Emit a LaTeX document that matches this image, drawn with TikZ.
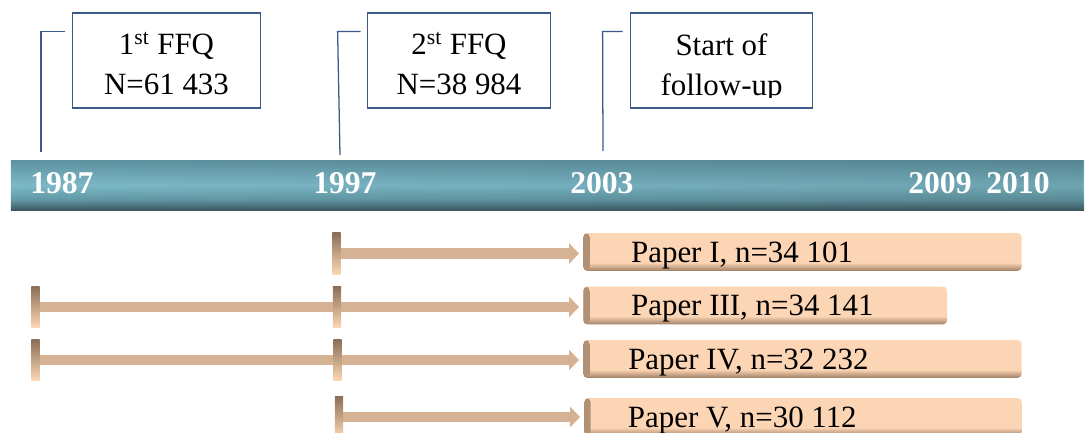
\documentclass[tikz,border=0pt]{standalone}
\usepackage{fontspec}
\setmainfont{Liberation Serif}
\usetikzlibrary{positioning,arrows.meta,backgrounds,fadings}
\definecolor{box_blue}{RGB}{59,90,138}
\definecolor{bar_top}{RGB}{94,146,160}
\definecolor{bar_mid}{RGB}{124,185,200}
\definecolor{bar_low}{RGB}{98,152,165}
\definecolor{bar_dark}{RGB}{58,85,92}
\definecolor{peach}{RGB}{252,213,180}
\definecolor{paper_dark}{RGB}{158,126,100}
\definecolor{shaft_tan}{RGB}{214,178,148}
\definecolor{tick_top}{RGB}{138,110,87}
\definecolor{tick_low}{RGB}{253,216,180}
\pgfdeclareverticalshading{bar_shade}{100bp}{color(0bp)=(bar_dark); color(25bp)=(bar_dark); color(36bp)=(bar_low); color(50bp)=(bar_mid); color(75bp)=(bar_top); color(100bp)=(bar_top)}
\pgfdeclareverticalshading{paper_shade}{100bp}{color(0bp)=(paper_dark); color(25bp)=(paper_dark); color(36bp)=(peach); color(100bp)=(peach)}
\tikzfading[name=bar_fade, left color=transparent!100, right color=transparent!80]

\begin{document}
\begin{tikzpicture}[x=0.025cm, y=-0.025cm,
  ffq/.style={rectangle,draw=box_blue,line width=1pt,fill=white,minimum width=134pt,minimum height=67.3pt,inner sep=0pt},
  ffq_text/.style={align=center,inner sep=0pt,font=\fontsize{22}{28.3}\selectfont},
  callout_line/.style={draw=box_blue,line width=0.9pt},
  time_bar/.style={rectangle,shade,shading=bar_shade,minimum width=763.3pt,minimum height=35.8pt,inner sep=0pt},
  year/.style={anchor=base west,inner sep=0pt,text=white,font=\fontsize{22.5}{24}\selectfont\bfseries},
  paper/.style={rectangle,shade,shading=paper_shade,rounded corners=3pt,minimum height=26.9pt,inner sep=0pt,anchor=west,
    path picture={\shade[left color=paper_dark!80!peach,right color=peach] (path picture bounding box.south west) rectangle ([xshift=4.5pt]path picture bounding box.north west);}},
  paper_text/.style={inner sep=0pt,font=\fontsize{22}{24}\selectfont},
  tick_bar/.style={rectangle,shade,top color=tick_top,bottom color=tick_low,minimum width=6pt,minimum height=29.8pt,inner sep=0pt},
  shaft/.style={draw=shaft_tan,line width=7.8pt,-{Triangle[width=14.2pt,length=7.1pt]},shorten >=2.8pt}
  ]

\useasboundingbox (0,0) rectangle (1086,433);

% timeline
\node[time_bar] (bar) at (547.5,185.4) {};
\fill[bar_dark,path fading=bar_fade] (bar.south west) rectangle (bar.north east);

\node[year] (y87) at (30,193) {1987};
\node[year] (y97) at (313,193) {1997};
\node[year] (y03) at (570,193) {2003};
\node[year] (y09) at (908,193) {2009};
\node[year] (y10) at (986,193) {2010};


% questionnaires
\node[ffq] (q1) at (166.5,60.5) {};
\node[ffq_text] (q1_text) at ([yshift=-2.1pt]q1.center) {1\textsuperscript{st} FFQ\\N=61 433};
\node[ffq,minimum width=130.4pt] (q2) at (459,60.5) {};
\node[ffq_text] (q2_text) at ([yshift=-2.1pt]q2.center) {2\textsuperscript{st} FFQ\\N=38 984};
\node[ffq,minimum width=129.7pt] (q3) at (721.5,60.5) {};
\begin{scope}
  \clip (q3.north west) rectangle ([yshift=7.8pt]q3.south east);
  \node[ffq_text] (q3_text) at ([yshift=-5.3pt]q3.center) {Start of\\follow-up};
\end{scope}

\coordinate (c87) at (41,152);
\coordinate (c97) at (340,155);
\coordinate (c03) at (603,151);
\draw[callout_line] ([shift={(-7,19)}]q1.north west) -| (c87);
\draw[callout_line] ([shift={(-6,19)}]q2.north west) -- ++(-23,0) -- (c97);
\draw[callout_line] ([shift={(-7,19)}]q3.north west) -- ++(-20,0) -- (c03);


% papers
\node[paper,minimum width=311.8pt] (p1) at (583,252) {};
\node[paper_text,right=34pt of p1.west,yshift=-2.5pt] (p1_text) {Paper I, n=34 101};
\node[paper,minimum width=258.7pt] (p3) at (583,305.5) {};
\node[paper_text,right=34pt of p3.west,yshift=-2.5pt] (p3_text) {Paper III, n=34 141};
\node[paper,minimum width=311.8pt] (p4) at (583,359) {};
\node[paper_text,right=32pt of p4.west,yshift=-2.5pt] (p4_text) {Paper IV, n=32 232};
\node[paper,minimum width=311.1pt] (p5) at (584,417) {};
\node[paper_text,right=31pt of p5.west,yshift=-2.5pt] (p5_text) {Paper V, n=30 112};

\node[tick_bar] (t1) at (336.5,253.5) {};
\node[tick_bar] (t3a) at (35.5,307) {};
\node[tick_bar] (t3b) at (337,307) {};
\node[tick_bar] (t4a) at (35.5,360) {};
\node[tick_bar] (t4b) at (337.5,360) {};
\node[tick_bar] (t5) at (339,417) {};

\begin{scope}[on background layer]
\draw[shaft] (t1.center) -- (t1 -| p1.west);
\draw[shaft] (t3a.center) -- (t3a -| p3.west);
\draw[shaft] (t4a.center) -- (t4a -| p4.west);
\draw[shaft] (t5.center) -- (t5 -| p5.west);
\end{scope}

\end{tikzpicture}
\end{document}
